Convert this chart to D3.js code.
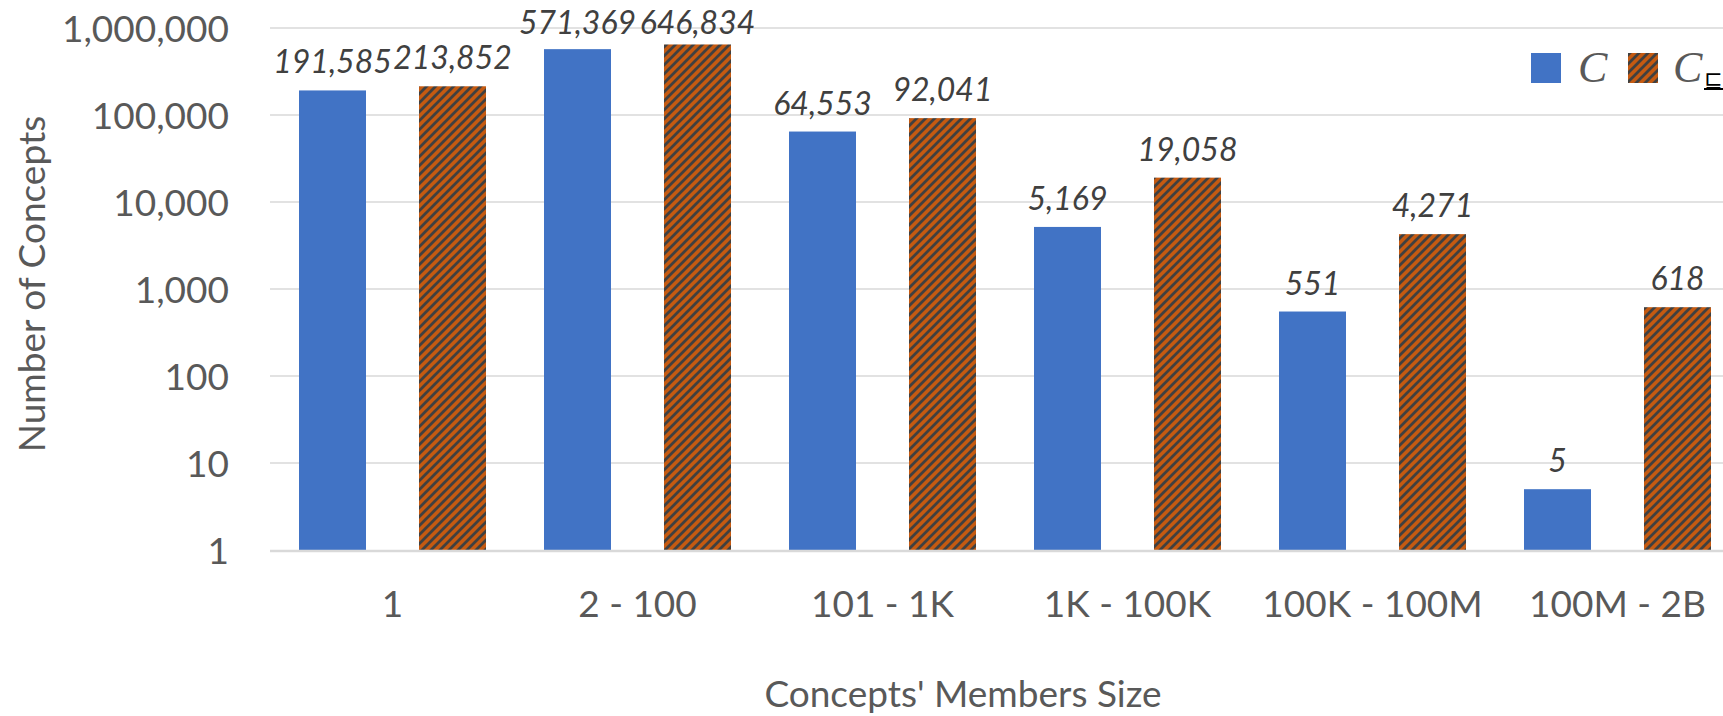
<!DOCTYPE html>
<html>
<head>
<meta charset="utf-8">
<script src="https://cdn.jsdelivr.net/npm/d3@7"></script>
<style>
  html, body { margin: 0; padding: 0; background: #fff; overflow: hidden; }
  svg { display: block; }
</style>
</head>
<body>
<svg id="chart" width="1723" height="716"></svg>
<script>
const categories = ["1", "2 - 100", "101 - 1K", "1K - 100K", "100K - 100M", "100M - 2B"];
const seriesNames = ["C", "C⊑"];
const valuesC = [191585, 571369, 64553, 5169, 551, 5];
const valuesCsub = [213852, 646834, 92041, 19058, 4271, 618];
const yTicks = [1, 10, 100, 1000, 10000, 100000, 1000000];
const xTitle = "Concepts' Members Size";
const yTitle = "Number of Concepts";

const svg = d3.select("#chart");
const font = "Lato, 'Open Sans', sans-serif";

const plotLeft = 270, plotTop = 28, plotBottom = 550, step = 245;
const x = d3.scaleBand().domain(categories).range([plotLeft, plotLeft + step * categories.length]).padding(0);
const xs = d3.scaleBand().domain([0, 1]).range([0, step]).paddingInner(53 / 120).paddingOuter(0.2417);
const y = d3.scaleLog().domain([1, 1e6]).range([plotBottom, plotTop]);

// pattern
const P = 9;
const defs = svg.append("defs");
const pat = defs.append("pattern").attr("id", "stripe").attr("patternUnits", "userSpaceOnUse")
  .attr("width", P).attr("height", P);
pat.append("rect").attr("width", P).attr("height", P).attr("fill", "#C55A11");
pat.append("path").attr("d", `M-2,2 L2,-2 M0,${P} L${P},0 M${P-2},${P+2} L${P+2},${P-2}`)
  .attr("stroke", "#404040").attr("stroke-width", 2.8);

// gridlines
svg.append("g").selectAll("line").data(yTicks.slice(1)).join("line")
  .attr("x1", plotLeft).attr("x2", 1723)
  .attr("y1", d => y(d)).attr("y2", d => y(d))
  .attr("stroke", "#D9D9D9").attr("stroke-width", 1.5);

// y axis labels
const yAxis = d3.axisLeft(y).tickValues(yTicks).tickFormat(d3.format(",")).tickSize(0).tickPadding(0);
const yg = svg.append("g").attr("transform", "translate(229,0)").call(yAxis);
yg.select(".domain").remove();
yg.selectAll("text").attr("font-family", font).attr("font-size", 37).attr("fill", "#595959").attr("dy", "0.36em");

// bars
const series = [valuesC, valuesCsub];
const fills = ["#4173C5", "url(#stripe)"];
series.forEach((vals, si) => {
  svg.append("g").selectAll("rect").data(vals).join("rect")
    .attr("x", (d, i) => x(categories[i]) + xs(si))
    .attr("width", xs.bandwidth())
    .attr("y", d => y(d))
    .attr("height", d => plotBottom - y(d))
    .attr("fill", fills[si]);
  svg.append("g").selectAll("text").data(vals).join("text")
    .attr("x", (d, i) => x(categories[i]) + xs(si) + xs.bandwidth() / 2)
    .attr("y", d => Math.max(34, y(d) - 17))
    .attr("text-anchor", "middle")
    .attr("font-family", font).attr("font-style", "italic").attr("font-size", 32)
    .attr("fill", "#404040")
    .text(d => d3.format(",")(d));
});

// x axis line
svg.append("line").attr("x1", plotLeft).attr("x2", 1723).attr("y1", plotBottom + 1).attr("y2", plotBottom + 1)
  .attr("stroke", "#D9D9D9").attr("stroke-width", 2.5);

// x axis labels
const xAxis = d3.axisBottom(x).tickSize(0).tickPadding(0);
const xg = svg.append("g").attr("transform", "translate(0,617)").call(xAxis);
xg.select(".domain").remove();
xg.selectAll("text").attr("font-family", font).attr("font-size", 37).attr("fill", "#595959").attr("dy", 0);

// axis titles
svg.append("text").attr("x", 963).attr("y", 707).attr("text-anchor", "middle")
  .attr("font-family", font).attr("font-size", 37).attr("fill", "#595959").text(xTitle);
svg.append("text").attr("transform", "translate(45,284) rotate(-90)").attr("text-anchor", "middle")
  .attr("font-family", font).attr("font-size", 37).attr("fill", "#595959").text(yTitle);

// legend
const lg = svg.append("g");
lg.append("rect").attr("x", 1531).attr("y", 53).attr("width", 30).attr("height", 30).attr("fill", "#4173C5");
lg.append("text").attr("x", 1578).attr("y", 82).attr("font-family", "'Liberation Serif', serif")
  .attr("font-style", "italic").attr("font-size", 44).attr("fill", "#595959").text(seriesNames[0]);
lg.append("rect").attr("x", 1628).attr("y", 53).attr("width", 30).attr("height", 30).attr("fill", "url(#stripe)");
const t2 = lg.append("text").attr("x", 1673).attr("y", 82).attr("font-family", "'Liberation Serif', serif")
  .attr("font-size", 44).attr("fill", "#595959");
t2.append("tspan").attr("font-style", "italic").text("C");
t2.append("tspan").attr("font-family", "'DejaVu Sans', sans-serif").attr("font-size", 22).attr("dy", 5).attr("dx", 2)
  .attr("fill", "#000").text("⊑");
lg.append("line").attr("x1", 1704).attr("x2", 1723).attr("y1", 89).attr("y2", 89).attr("stroke", "#000").attr("stroke-width", 2);
</script>
</body>
</html>
